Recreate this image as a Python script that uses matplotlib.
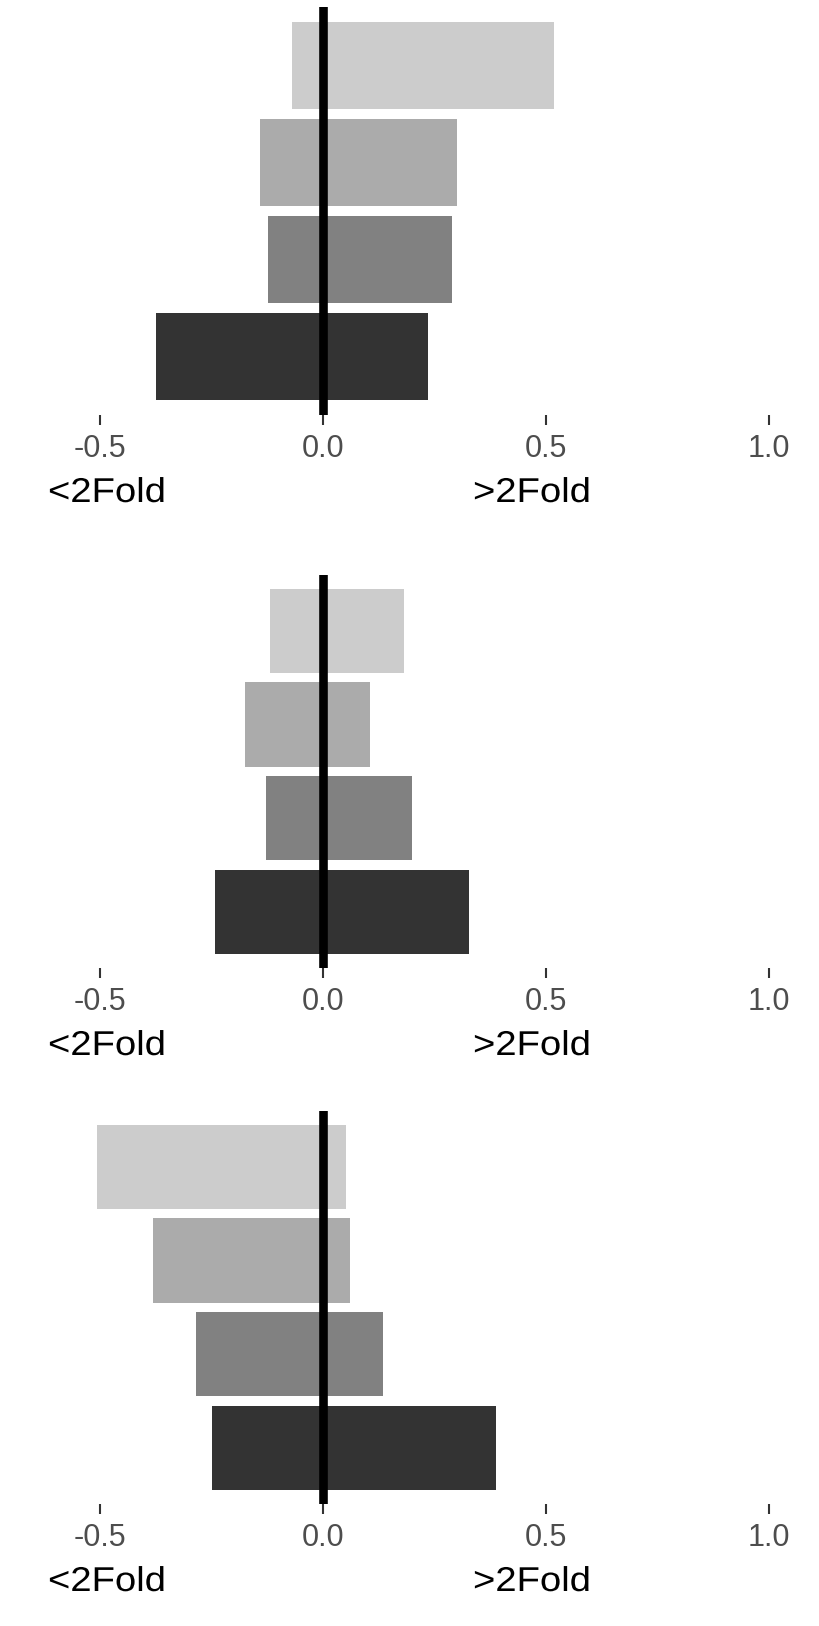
import matplotlib
matplotlib.use("Agg")
import matplotlib.pyplot as plt
from matplotlib.patheffects import AbstractPathEffect
from matplotlib.transforms import Affine2D

plt.rcParams['font.family'] = ['Liberation Sans', 'DejaVu Sans']

# ---- data (top bar to bottom bar in each panel) ----
levels = ["L1", "L2", "L3", "L4"]
fill_colors = ["#CCCCCC", "#ABABAB", "#818181", "#333333"]

panel1_neg = [-0.068, -0.140, -0.122, -0.374]
panel1_pos = [0.519, 0.302, 0.291, 0.237]

panel2_neg = [-0.118, -0.175, -0.127, -0.242]
panel2_pos = [0.183, 0.106, 0.201, 0.327]

panel3_neg = [-0.506, -0.380, -0.284, -0.248]
panel3_pos = [0.052, 0.062, 0.135, 0.388]

x_ticks = [-0.5, 0.0, 0.5, 1.0]
x_tick_labels = ["-0.5", "0.0", "0.5", "1.0"]
low_label = "<2Fold"
high_label = ">2Fold"


class HStretch(AbstractPathEffect):
    """Stretch glyphs horizontally (the reference text is slightly wide)."""
    def __init__(self, sx, center=False):
        super().__init__()
        self.sx = sx
        self.center = center

    def draw_path(self, renderer, gc, tpath, affine, rgbFace=None):
        cx = 0.0
        if self.center:
            ext = tpath.get_extents()
            cx = (ext.x0 + ext.x1) / 2.0
        pre = Affine2D().translate(-cx, 0).scale(self.sx, 1.0).translate(cx, 0)
        renderer.draw_path(gc, tpath, pre + affine, rgbFace)


# ---- layout (pixels) ----
W, H = 820, 1626
DPI = 100
panels_px = [(7.5, 415.0), (574.5, 968.0), (1110.5, 1504.0)]  # (top, bottom)
xlim = (-0.6, 1.1)
ax_left_px, ax_right_px = 55.1, 813.3

fig = plt.figure(figsize=(W / DPI, H / DPI), dpi=DPI)
fig.patch.set_facecolor("white")

data = [(panel1_neg, panel1_pos), (panel2_neg, panel2_pos), (panel3_neg, panel3_pos)]
ypos = list(range(len(levels), 0, -1))

for (top, bot), (neg, pos) in zip(panels_px, data):
    ax = fig.add_axes([ax_left_px / W, 1 - bot / H,
                       (ax_right_px - ax_left_px) / W, (bot - top) / H])
    ax.barh(ypos, neg, height=0.9, color=fill_colors, linewidth=0, zorder=2)
    ax.barh(ypos, pos, height=0.9, color=fill_colors, linewidth=0, zorder=2)
    ax.axvline(0, color="black", linewidth=6.2, zorder=3)
    ax.set_xlim(*xlim)
    ax.set_ylim(0.4, len(levels) + 0.6)
    ax.set_yticks([])
    ax.set_xticks(x_ticks)
    ax.set_xticklabels(x_tick_labels)
    ax.tick_params(axis="x", length=7.2, width=1.5, color="#333333",
                   pad=6.5, labelsize=22, labelcolor="#4D4D4D")
    for s in ax.spines.values():
        s.set_visible(False)
    ax.set_facecolor("none")
    base = bot + 87.0
    t1 = fig.text(48 / W, 1 - base / H, low_label, fontsize=24.8, color="black",
                  ha="left", va="baseline")
    t2 = fig.text(473 / W, 1 - base / H, high_label, fontsize=24.8, color="black",
                  ha="left", va="baseline")
    for t in (t1, t2):
        t.set_path_effects([HStretch(1.11)])

fig.savefig("out.png", dpi=DPI, facecolor="white")
